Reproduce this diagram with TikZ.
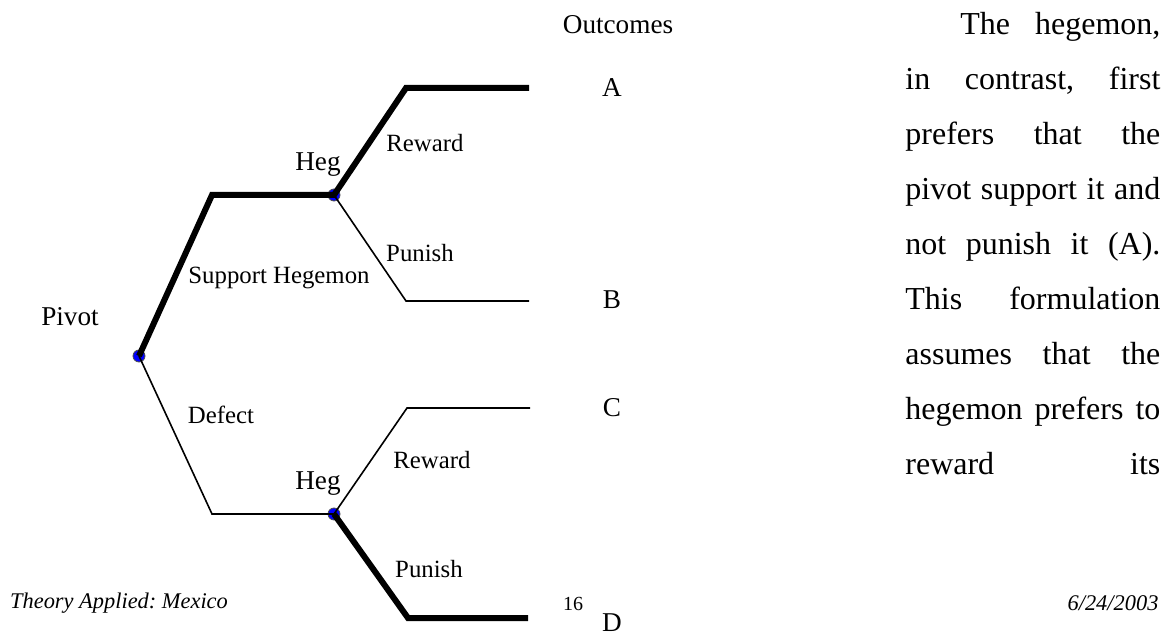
\documentclass[tikz,border=0pt]{standalone}
\usepackage{fontspec}
\setmainfont{Liberation Serif}
\frenchspacing

\begin{document}
\begin{tikzpicture}[x=0.5pt,y=-0.5pt,
    dot/.style={circle,fill=blue,draw=black!70,line width=0.4pt,inner sep=0pt,minimum size=6pt},
    br/.style={line width=0.8pt},
    eq/.style={line width=3pt},
    lbl/.style={font=\fontsize{12.4}{14}\selectfont},
    big/.style={font=\fontsize{13.6}{16}\selectfont},
    foot/.style={font=\fontsize{11.2}{13}\selectfont\itshape}]
    \useasboundingbox (0,0) rectangle (1171,635);
    \node[dot] (pivot) at (139,356) {};
    \node[dot] (hegU) at (334,195) {};
    \node[dot] (hegL) at (334,514) {};
    \coordinate (supp) at (212,195);
    \coordinate (dfct) at (212,514);
    \coordinate (rewU) at (406,88);  \coordinate (endA) at (529,88);
    \coordinate (punU) at (406,301); \coordinate (endB) at (529,301);
    \coordinate (rewL) at (407,408); \coordinate (endC) at (530,408);
    \coordinate (punL) at (408,618); \coordinate (endD) at (528,618);
    \draw[eq] (pivot.center) -- (supp) -- (hegU.center) -- (rewU) -- (endA);
    \draw[br] (hegU.center) -- (punU) -- (endB);
    \draw[br] (pivot.center) -- (dfct) -- (hegL.center) -- (rewL) -- (endC);
    \draw[eq] (hegL.center) -- (punL) -- (endD);
		\node[big] (pivotlbl) at (70,317) {Pivot};
		\node[lbl] (supplbl) at (279,278) {Support Hegemon};
		\node[lbl] (dfctlbl) at (221,415) {Defect};
		\node[big] (heglblU) at (318,165) {Heg};
		\node[big] (heglblL) at (318,484) {Heg};
		\node[lbl] (rewlblU) at (425,143) {Reward};
		\node[lbl] (punlblU) at (420,253) {Punish};
		\node[lbl] (rewlblL) at (432,460) {Reward};
		\node[lbl] (punlblL) at (429,569) {Punish};
		\node[big] (outc) at (618,25) {Outcomes};
		\foreach \o/\y in {A/88,B/300,C/408,D/623} \node[big] (out\o) at (612,\y) {\o};
		\node[foot] (title) at (119,603) {Theory Applied: Mexico};
		\node[foot] (date) at (1113,603) {6/24/2003};
		\node[font=\fontsize{10}{12}\selectfont] (pgno) at (573,604) {16};
    \node[anchor=base west,inner sep=0pt,text width=127.5pt,align=justify,
      font=\fontsize{16}{27.5}\selectfont] (body) at (905,35)
      {\hspace*{27.5pt}The hegemon,\linebreak in contrast, first\linebreak prefers that the\linebreak
       pivot support it and\linebreak not punish it (A).\linebreak This formulation\linebreak
       assumes that the\linebreak hegemon prefers to\linebreak reward\hfill its};
  \end{tikzpicture}
\end{document}
